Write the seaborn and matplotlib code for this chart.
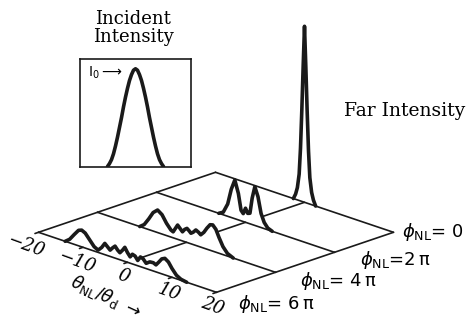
import numpy as np
import pandas as pd
import seaborn as sns
import matplotlib.pyplot as plt

sns.set_theme(style="white")
plt.rcParams["mathtext.fontset"] = "dejavusans"
plt.rcParams["text.color"] = "black"

# incident pulse (inset), position in px-like units, relative intensity
inc_x = [-28, -26, -24, -22, -20, -18, -16, -14, -12, -10, -8, -6, -4, -2, 0,
         2, 4, 6, 8, 10, 12, 14, 16, 18, 20, 22, 24, 26, 28]
inc_i = [0.0, 0.03, 0.07, 0.13, 0.21, 0.30, 0.40, 0.50, 0.61, 0.71, 0.80, 0.88, 0.94, 0.985, 1.0,
         0.985, 0.94, 0.88, 0.80, 0.71, 0.61, 0.50, 0.40, 0.30, 0.21, 0.13, 0.07, 0.03, 0.0]

# far field profiles for phi_NL = 0, 2pi, 4pi, 6pi
th0 = [-2.5, -2.0, -1.6, -1.2, -0.9, -0.6, -0.3, 0, 0.3, 0.6, 0.9, 1.2, 1.6, 2.0, 2.5]
in0 = [0, 0.3, 0.7, 1.5, 3.0, 5.2, 7.7, 10, 7.7, 5.2, 3.0, 1.5, 0.7, 0.3, 0]

th1 = [-6, -5, -4, -3.2, -2.4, -1.6, -1.0, -0.5, 0, 0.5, 1.0, 1.5, 2.1, 2.8, 3.5, 4.2, 5, 6]
in1 = [0, 0.15, 0.7, 1.6, 2.2, 1.5, 0.6, 0.45, 0.8, 0.55, 0.6, 1.5, 2.2, 1.7, 0.8, 0.35, 0.1, 0]

th2 = [-10.5, -9.5, -8.5, -7.5, -6.5, -5.5, -4.5, -3.5, -3.0, -2.0, -1.4, -0.9, -0.4, 0.1,
       0.6, 1.0, 1.5, 2.1, 2.7, 3.2, 3.9, 4.6, 5.3, 5.9, 6.6, 7.3, 8.2, 9.2, 10.5]
in2 = [0, 0.2, 0.6, 1.05, 1.28, 1.1, 0.7, 0.4, 0.34, 0.81, 0.65, 0.52, 0.7, 0.8,
       0.7, 0.6, 0.7, 0.88, 0.8, 0.7, 0.9, 1.2, 1.45, 1.49, 1.3, 0.9, 0.45, 0.15, 0]

th3 = [-14, -13, -12, -11, -10.3, -9.5, -8.5, -7.5, -6.6, -5.8, -5.1, -4.5, -3.9, -3.3,
       -2.8, -2.2, -1.7, -1.1, -0.6, 0, 0.6, 1.1, 1.7, 2.3, 2.9, 3.5, 4.2, 5.0, 5.8,
       6.4, 7.0, 7.7, 8.4, 9.2, 10.0, 11.0, 12.0, 13.3]
in3 = [0, 0.2, 0.55, 0.88, 0.95, 0.85, 0.55, 0.25, 0.13, 0.35, 0.64, 0.5, 0.36, 0.55,
       0.68, 0.5, 0.4, 0.6, 0.8, 0.55, 0.36, 0.55, 0.5, 0.3, 0.55, 0.5, 0.3, 0.45, 0.47,
       0.4, 0.6, 0.85, 0.94, 0.8, 0.5, 0.2, 0.06, 0]

phi_labels = [" 0", "2\u2009\u03c0", " 4\u2009\u03c0", " 6\u2009\u03c0"]
theta_ticks = [-20, -10, 0, 10, 20]
theta_ticklabels = ["\u221220", "\u221210", "0", "10", "20"]

profiles = [(th0, in0), (th1, in1), (th2, in2), (th3, in3)]

# oblique projection (pixel space)
X0, Y0 = 215.5, 172.3
DXT, DYT = 4.45, 1.5     # per unit theta
DXP, DYP = 59.0, 20.0    # per phi step (2 pi)
H = 17.6                 # px per intensity unit


def proj(theta, k, h=0.0):
    theta = np.asarray(theta, float)
    h = np.asarray(h, float)
    x = X0 + (theta + 20) * DXT - k * DXP
    y = Y0 + (theta + 20) * DYT + k * DYP - h * H
    return x, y


fig = plt.figure(figsize=(4.72, 3.22), dpi=100)
ax = fig.add_axes([0, 0, 1, 1])
ax.set_xlim(0, 472)
ax.set_ylim(322, 0)
ax.axis("off")

lw_grid = 1.2
lw_curve = 2.6
for k, (th, it) in enumerate(profiles):
    z = 10 * k
    if k > 0:
        for t in (-20, 0, 20):
            xa, ya = proj(t, k - 1)
            xb, yb = proj(t, k)
            ax.plot([xa, xb], [ya, yb], color="k", lw=lw_grid, zorder=z + 1)
    xc, yc = proj(th, k, it)
    xb0, yb0 = proj(th, k)
    ax.fill(np.r_[xc, xb0[::-1]], np.r_[yc, yb0[::-1]], color="white", lw=0, zorder=z + 2)
    xr, yr = proj([-20, 20], k)
    ax.plot(xr, yr, color="k", lw=lw_grid, zorder=z + 3)
    df = pd.DataFrame({"x": xc, "y": yc})
    sns.lineplot(data=df, x="x", y="y", sort=False, estimator=None, color="k",
                 lw=lw_curve, ax=ax, zorder=z + 4)

ax.set_xlim(0, 472)
ax.set_ylim(322, 0)
ax.set(xlabel="", ylabel="")

# theta ticks and labels on front edge
lab_off = [(-13, 14), (-6, 15), (-4, 14), (-3, 15), (-4, 14)]
for t, lab, (dx, dy) in zip(theta_ticks, theta_ticklabels, lab_off):
    xt, yt = proj(t, 3)
    ax.plot([xt, xt - 3.5], [yt, yt + 1.2], color="k", lw=lw_grid, zorder=50)
    ax.text(xt + dx, yt + dy, lab, rotation=-20, ha="center", va="center",
            family="DejaVu Serif", style="italic", fontsize=13, zorder=50)

ax.text(106, 297, r"$\theta_{\mathsf{NL}}/\theta_{\mathsf{d}}$ $\rightarrow$", rotation=-25,
        ha="center", va="center", fontsize=12.5, zorder=50)

# phi labels on right edge
offs = [(8, 0), (26, 8), (25, 9), (22, 12)]
for k, lab in enumerate(phi_labels):
    xp, yp = proj(20, k)
    ax.text(xp + offs[k][0], yp + offs[k][1], r"$\phi_{\mathsf{NL}}$=" + lab,
            ha="left", va="center", fontsize=13, zorder=50)

ax.text(133, 28, "Incident\nIntensity", ha="center", va="center",
        family="DejaVu Serif", fontsize=13, linespacing=0.95)
ax.text(344, 111, "Far Intensity", ha="left", va="center",
        family="DejaVu Serif", fontsize=13.5)

# inset: incident intensity
ins = fig.add_axes([80 / 472, 1 - 167 / 322, 111 / 472, 108 / 322])
sns.lineplot(x=inc_x, y=inc_i, color="k", lw=lw_curve, ax=ins, sort=False, estimator=None)
ins.set_xlim(-55.5, 55.5)
ins.set_ylim(-0.005, 1.10)
ins.set_xticks([])
ins.set_yticks([])
ins.set(xlabel="", ylabel="")
for s in ins.spines.values():
    s.set_color("k")
    s.set_linewidth(1.2)
ins.text(0.07, 0.87, r"$\mathrm{I_0}$$\longrightarrow$", transform=ins.transAxes,
         ha="left", va="center", fontsize=10, family="DejaVu Serif")

fig.savefig("out.png", dpi=100)
